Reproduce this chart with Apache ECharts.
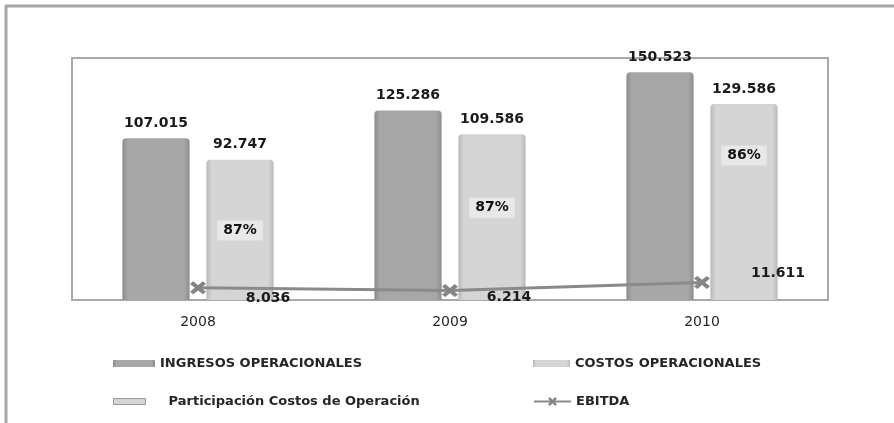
<!DOCTYPE html>
<html>
<head>
<meta charset="utf-8">
<script src="https://cdn.jsdelivr.net/npm/echarts@6/dist/echarts.min.js"></script>
<style>
html, body { margin: 0; padding: 0; background: #fff; }
#chart { width: 894px; height: 423px; }
</style>
</head>
<body>
<div id="chart"></div>
<script>
const years = ["2008", "2009", "2010"];
const ingresos = [107015, 125286, 150523];
const costos = [92747, 109586, 129586];
const participacion = [87, 87, 86];
const ebitda = [8036, 6214, 11611];
// height (axis units) where the % boxes sit inside the cost bars
const participacionAt = [46000, 61000, 95500];
const yMax = 160000;

// label shifts for the EBITDA numbers
const ebitdaLabelShift = [[70, 11], [59, 7], [76, -9]];

function miles(n) {
  return String(n).replace(/\B(?=(\d{3})+(?!\d))/g, ".");
}

const chart = echarts.init(document.getElementById("chart"));

const ingresosColor = new echarts.graphic.LinearGradient(0, 0, 1, 0, [
  { offset: 0, color: "#8c8c8c" },
  { offset: 0.08, color: "#a7a7a7" },
  { offset: 0.92, color: "#a7a7a7" },
  { offset: 1, color: "#8c8c8c" },
]);
const costosColor = new echarts.graphic.LinearGradient(0, 0, 1, 0, [
  { offset: 0, color: "#b8b8b8" },
  { offset: 0.08, color: "#d5d5d5" },
  { offset: 0.92, color: "#d5d5d5" },
  { offset: 1, color: "#b8b8b8" },
]);

const valueLabel = {
  show: true,
  position: "top",
  distance: 8,
  fontFamily: "DejaVu Sans",
  fontWeight: "bold",
  fontSize: 14,
  color: "#1a1a1a",
  formatter: (p) => miles(p.value),
};

const legendText = {
  fontFamily: "DejaVu Sans",
  fontWeight: "bold",
  fontSize: 13,
  color: "#262626",
};

const xShape = "path://M0,2 L2,0 L5,3 L8,0 L10,2 L7,5 L10,8 L8,10 L5,7 L2,10 L0,8 L3,5 Z";

const option = {
  animation: false,
  backgroundColor: "#fff",
  graphic: [
    { type: "line", shape: { x1: 5, y1: 6, x2: 894, y2: 6 }, style: { stroke: "#a6a6a6", lineWidth: 3 } },
    { type: "line", shape: { x1: 6, y1: 5, x2: 6, y2: 423 }, style: { stroke: "#a6a6a6", lineWidth: 3 } },
  ],
  grid: {
    left: 72,
    right: 66,
    top: 58,
    bottom: 123,
    show: true,
    borderColor: "#a9a9a9",
    borderWidth: 2,
  },
  legend: [
    {
      left: 108, top: 352, itemWidth: 42, itemHeight: 7,
      data: [{ name: "INGRESOS OPERACIONALES", icon: "rect" }],
      textStyle: legendText,
    },
    {
      left: 108, top: 390, itemWidth: 32, itemHeight: 6,
      data: [{ name: "Participación Costos de Operación", icon: "rect", itemStyle: { color: "#d5d5d5", borderColor: "#9a9a9a", borderWidth: 1 } }],
      formatter: (n) => "    " + n,
      textStyle: legendText,
    },
    {
      left: 528, top: 352, itemWidth: 37, itemHeight: 7,
      data: [{ name: "COSTOS OPERACIONALES", icon: "rect" }],
      textStyle: legendText,
    },
    {
      left: 528, top: 390, itemWidth: 37, itemHeight: 11,
      data: [{ name: "EBITDA" }],
      textStyle: legendText,
    },
  ],
  xAxis: {
    type: "category",
    data: years,
    axisLine: { lineStyle: { color: "#a9a9a9", width: 2 } },
    axisTick: { show: false },
    axisLabel: {
      margin: 15,
      fontFamily: "DejaVu Sans",
      fontSize: 14,
      color: "#262626",
    },
  },
  yAxis: {
    type: "value",
    min: 0,
    max: yMax,
    show: false,
  },
  series: [
    {
      name: "INGRESOS OPERACIONALES",
      type: "bar",
      data: ingresos,
      barGap: "25%",
      barCategoryGap: "40%",
      itemStyle: { color: ingresosColor, borderRadius: [4, 4, 0, 0] },
      label: valueLabel,
    },
    {
      name: "COSTOS OPERACIONALES",
      type: "bar",
      data: costos,
      barGap: "25%",
      barCategoryGap: "40%",
      itemStyle: { color: costosColor, borderRadius: [4, 4, 0, 0] },
      label: valueLabel,
    },
    {
      name: "Participación Costos de Operación",
      type: "scatter",
      data: participacionAt,
      symbolSize: 0,
      itemStyle: { color: "#d5d5d5", opacity: 1 },
      z: 5,
      label: {
        show: true,
        position: "inside",
        offset: [42, 0],
        backgroundColor: "#e8e8e8",
        padding: [3, 6],
        fontFamily: "DejaVu Sans",
        fontWeight: "bold",
        fontSize: 14,
        color: "#111",
        opacity: 1,
        formatter: (p) => participacion[p.dataIndex] + "%",
      },
    },
    {
      name: "EBITDA",
      type: "line",
      data: ebitda.map((v, i) => ({
        value: v,
        label: { offset: ebitdaLabelShift[i] },
      })),
      symbol: xShape,
      symbolSize: [16, 13],
      itemStyle: { color: "#858585" },
      lineStyle: { color: "#8a8a8a", width: 3 },
      z: 6,
      label: {
        show: true,
        position: "inside",
        fontFamily: "DejaVu Sans",
        fontWeight: "bold",
        fontSize: 14,
        color: "#1a1a1a",
        formatter: (p) => miles(p.value),
      },
    },
  ],
};

chart.setOption(option);
window.addEventListener("resize", chart.resize);
</script>
</body>
</html>
